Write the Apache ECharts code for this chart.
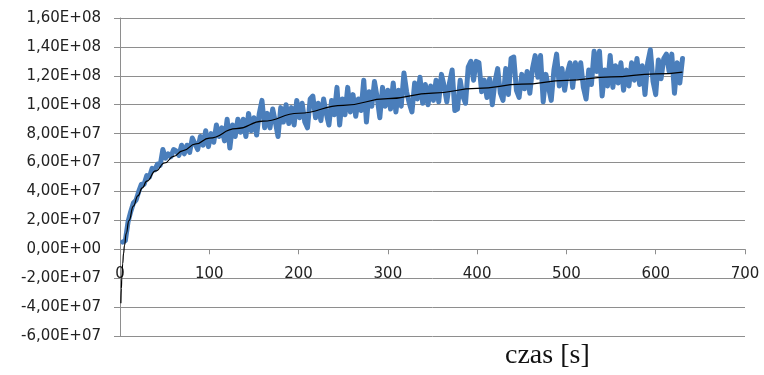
<!DOCTYPE html>
<html>
<head>
<meta charset="utf-8">
<script src="https://cdn.jsdelivr.net/npm/echarts@6/dist/echarts.min.js"></script>
<style>
  html, body { margin: 0; padding: 0; background: #fff; }
  #chart { width: 764px; height: 375px; }
</style>
</head>
<body>
<div id="chart"></div>
<script>
// measured signal, one sample every 3 s starting at t = 3 s (values in 1e7 units)
const sampleStep = 3
const signalValues = [
  0.5, 0.6, 1.9, 2.6, 3.2, 3.4, 4.0, 4.5, 4.5, 5.1, 5.0, 5.6, 5.5, 5.9, 5.8, 6.9, 6.3, 6.6, 6.4, 6.9,
  6.8, 6.5, 7.2, 6.6, 7.2, 6.7, 7.7, 7.3, 6.9, 7.8, 7.2, 8.2, 7.1, 8.0, 7.4, 8.6, 7.8, 8.4, 7.5, 9.0,
  7.0, 8.6, 7.8, 9.0, 8.1, 9.0, 7.8, 9.4, 8.2, 9.1, 7.9, 9.4, 10.3, 8.4, 9.4, 8.4, 9.7, 8.8, 7.8, 9.8,
  8.8, 10.0, 8.7, 9.8, 8.6, 10.3, 9.1, 10.1, 8.8, 8.4, 10.4, 10.6, 9.1, 10.1, 8.9, 10.4, 9.4, 8.6, 10.3, 9.3,
  11.2, 8.6, 10.4, 9.3, 11.2, 9.5, 10.7, 9.2, 10.4, 9.6, 11.7, 8.8, 10.9, 9.9, 11.6, 10.5, 9.1, 11.2, 9.9, 11.0,
  9.7, 11.5, 9.5, 11.0, 9.9, 12.2, 10.9, 10.1, 9.5, 11.5, 10.4, 11.9, 10.1, 11.4, 10.0, 11.3, 10.3, 11.7, 10.2, 12.1,
  11.3, 10.2, 11.5, 12.4, 9.6, 9.7, 11.7, 10.6, 10.1, 12.6, 13.0, 11.7, 13.0, 12.9, 10.9, 11.7, 10.5, 11.8, 10.0, 11.6,
  12.5, 10.8, 10.3, 12.5, 10.7, 13.2, 13.3, 11.0, 10.5, 12.1, 11.1, 12.3, 10.8, 12.5, 13.4, 11.9, 13.4, 10.2, 12.1, 11.2,
  10.3, 12.4, 13.5, 11.3, 12.5, 11.0, 12.2, 12.9, 11.2, 12.9, 11.9, 12.9, 11.2, 10.4, 12.4, 11.4, 13.7, 12.3, 13.7, 10.6,
  12.4, 11.3, 13.4, 11.2, 12.7, 11.5, 12.9, 11.0, 12.4, 11.3, 12.9, 11.7, 13.2, 11.4, 12.7, 10.7, 12.9, 13.8, 11.6, 10.7,
  13.1, 11.8, 13.2, 13.5, 12.3, 13.5, 10.8, 12.9, 11.5, 13.2
]

// logarithmic trend line
const trendTimes = [1, 1.5, 2, 3, 4, 5, 7, 10, 15, 20, 25, 30, 40, 50, 60, 70, 85, 100, 130, 160, 200, 250, 300, 350, 400, 450, 500, 550, 600, 630]
const trendValues = [-3.73, -2.72, -2.01, -1.00, -0.29, 0.26, 1.10, 1.98, 2.99, 3.70, 4.25, 4.71, 5.42, 5.97, 6.42, 6.81, 7.29, 7.69, 8.34, 8.86, 9.41, 9.96, 10.42, 10.80, 11.13, 11.42, 11.68, 11.92, 12.13, 12.26]

const unit = 1e7
const signalData = signalValues.map((v, i) => [(i + 1) * sampleStep, v * unit])
const trendData = trendTimes.map((t, i) => [t, trendValues[i] * unit])

// 1.6e8 -> "1,60E+08"
function sciLabel(v) {
  const s = Number(v).toExponential(2)
  const parts = s.split('e')
  const sign = parts[1][0]
  let exp = parts[1].slice(1)
  if (exp.length < 2) exp = '0' + exp
  return parts[0].replace('.', ',') + 'E' + sign + exp
}

const gridColor = '#8e8e8e'
const labelFont = 'DejaVu Sans'
// plot area 18..336 px tall, y range -6e7..1.6e8 -> zero line sits 86.7 px above the bottom
const zeroLift = -318 * 6 / 22

const chart = echarts.init(document.getElementById('chart'))
chart.setOption({
  animation: false,
  backgroundColor: '#fff',
  title: {
    text: 'czas [s]',
    left: 505,
    top: 342,
    padding: 0,
    textStyle: { fontFamily: 'Liberation Serif', fontSize: 28, fontWeight: 'normal', color: '#111' }
  },
  grid: { left: 120, right: 19, top: 18, bottom: 39 },
  xAxis: {
    type: 'value',
    min: 0,
    max: 700,
    interval: 100,
    offset: zeroLift,
    axisLine: { onZero: false, lineStyle: { color: gridColor, width: 1 } },
    axisTick: { show: true, inside: false, length: 5, lineStyle: { color: gridColor } },
    axisLabel: { margin: 17, fontFamily: labelFont, fontSize: 15, color: '#222' },
    splitLine: { show: false }
  },
  yAxis: {
    type: 'value',
    min: -6e7,
    max: 1.6e8,
    interval: 2e7,
    axisLine: { show: true, onZero: false, lineStyle: { color: gridColor, width: 1 } },
    axisTick: { show: true, inside: false, length: 6, lineStyle: { color: gridColor } },
    axisLabel: { margin: 19, fontFamily: labelFont, fontSize: 15, color: '#222', formatter: sciLabel },
    splitLine: { show: true, lineStyle: { color: gridColor, width: 1 } }
  },
  series: [
    {
      name: 'signal',
      type: 'line',
      data: signalData,
      showSymbol: false,
      lineStyle: { color: '#4a7ebb', width: 5, join: 'round', cap: 'round' },
      z: 2
    },
    {
      name: 'trend',
      type: 'line',
      data: trendData,
      showSymbol: false,
      smooth: true,
      smoothMonotone: 'x',
      lineStyle: { color: '#000', width: 1.2 },
      z: 3
    }
  ]
})
</script>
</body>
</html>
